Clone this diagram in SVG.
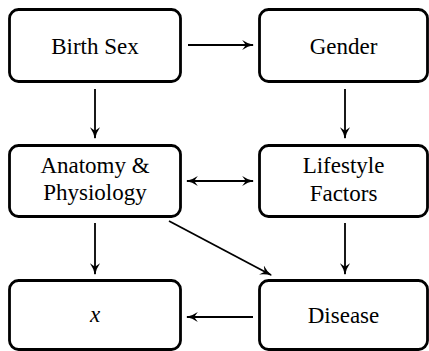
<svg xmlns="http://www.w3.org/2000/svg" width="429" height="351" viewBox="0 0 429 351">
<style>
.box{fill:#fff;stroke:#000;stroke-width:2.8}
.c{fill:none;stroke:#000;stroke-width:1.8}
.t{font-family:'Liberation Serif','Times New Roman',serif;font-size:23px;text-anchor:middle;fill:#000}
</style>
<defs>
<marker id="ah" viewBox="0 0 10 10" refX="9" refY="5" markerWidth="12" markerHeight="12" markerUnits="userSpaceOnUse" orient="auto-start-reverse">
<path d="M0,0.8 Q4.5,4 10,5 Q4.5,6 0,9.2 L3,5 Z" fill="#000"/>
</marker>
</defs>
<g id="connectors">
<line class="c" x1="188" y1="45" x2="253" y2="45" marker-end="url(#ah)"/>
<line class="c" x1="95" y1="89" x2="95" y2="138" marker-end="url(#ah)"/>
<line class="c" x1="345" y1="89" x2="345" y2="138" marker-end="url(#ah)"/>
<line class="c" x1="187" y1="181" x2="253" y2="181" marker-start="url(#ah)" marker-end="url(#ah)"/>
<line class="c" x1="95" y1="223" x2="95" y2="274" marker-end="url(#ah)"/>
<line class="c" x1="345" y1="223" x2="345" y2="274" marker-end="url(#ah)"/>
<line class="c" x1="169" y1="221" x2="271" y2="275" marker-end="url(#ah)"/>
<line class="c" x1="253" y1="317" x2="187" y2="317" marker-end="url(#ah)"/>
</g>
<g id="birth-sex">
<rect class="box" x="9.5" y="9.5" width="171" height="72" rx="9"/>
<text class="t" x="95" y="54">Birth Sex</text>
</g>
<g id="gender">
<rect class="box" x="259.5" y="9.5" width="168" height="72" rx="9"/>
<text class="t" x="343.5" y="54">Gender</text>
</g>
<g id="anatomy">
<rect class="box" x="9.5" y="145.5" width="171" height="71" rx="9"/>
<text class="t" x="95" y="173">Anatomy &amp;</text>
<text class="t" x="95" y="200">Physiology</text>
</g>
<g id="lifestyle">
<rect class="box" x="259.5" y="145.5" width="168" height="71" rx="9"/>
<text class="t" x="343.5" y="173">Lifestyle</text>
<text class="t" x="343.5" y="201">Factors</text>
</g>
<g id="x">
<rect class="box" x="9.5" y="280.5" width="171" height="69" rx="9"/>
<text class="t" x="95" y="322" font-style="italic">x</text>
</g>
<g id="disease">
<rect class="box" x="259.5" y="280.5" width="168" height="69" rx="9"/>
<text class="t" x="343.5" y="323">Disease</text>
</g>
</svg>
